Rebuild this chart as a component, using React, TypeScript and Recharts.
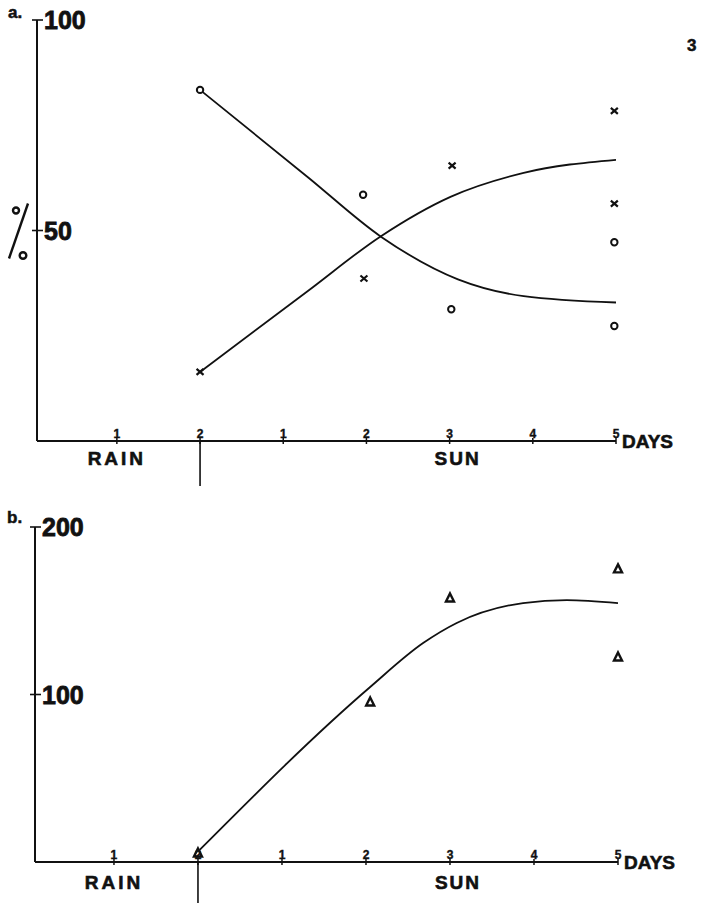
import { ComposedChart, Line, Scatter, XAxis, YAxis } from 'recharts'

// x runs over the whole period: rain days 1-2 then sun days 1-5 (t = 1..7)
const dayTicks = [1, 2, 3, 4, 5, 6, 7]
const dayLabels = ['1', '2', '1', '2', '3', '4', '5']
const rainDay = 1
const switchDay = 2
const sunDay = 5
const lastDay = 7

// panel a (%)
const pctTicks = [50, 100]
const circleDays = [2, 3.96, 5.02, 6.98, 6.98]
const circleValues = [83.4, 58.5, 31.3, 47.2, 27.3]
const crossDays = [2, 3.97, 5.03, 6.98, 6.98]
const crossValues = [16.4, 38.6, 65.4, 78.4, 56.4]
const circleCurveDays = [2, 3.3, 4.17, 5.1, 5.89, 7]
const circleCurveValues = [83.4, 62.6, 48.6, 38.4, 34.4, 32.9]
const crossCurveDays = [2, 3.3, 4.17, 5.01, 5.89, 7]
const crossCurveValues = [16.4, 35.7, 48.6, 58, 63.7, 66.8]

// panel b
const countTicks = [100, 200]
const triangleDays = [2, 4.05, 5, 7, 7]
const triangleValues = [5.4, 95.5, 157.6, 175, 122.4]
const triCurveDays = [2.02, 4.05, 4.68, 5.08, 5.87, 6.39, 7]
const triCurveValues = [7.2, 104.5, 130.7, 142.7, 154.6, 156.4, 154.6]

const zip = (ts: number[], vs: number[]) => ts.map((t, i) => ({ t, v: vs[i] }))

const FONT = '"Liberation Sans", Arial, sans-serif'
const INK = '#111'

const Ring = ({ cx, cy }: any) => (
  <circle cx={cx} cy={cy} r={3.2} fill="#fff" stroke={INK} strokeWidth={2} />
)
const Cross = ({ cx, cy }: any) => (
  <path
    d={`M${cx - 3.5},${cy - 3}L${cx + 3.5},${cy + 3}M${cx - 3.5},${cy + 3}L${cx + 3.5},${cy - 3}`}
    stroke={INK}
    strokeWidth={2.2}
  />
)
const Tri = ({ cx, cy }: any) => (
  <path
    d={`M${cx},${cy - 4.5}L${cx + 4},${cy + 3.5}L${cx - 4},${cy + 3.5}Z`}
    fill="#fff"
    stroke={INK}
    strokeWidth={2.4}
  />
)

const makeDayTick = (wordDy: number, dividerLen: number) => (props: any) => {
  const { x, y, payload } = props
  const i = dayTicks.indexOf(payload.value)
  return (
    <g fontFamily={FONT} fill={INK} stroke={INK} strokeWidth={0.6}>
      <line x1={x} x2={x} y1={y - 3} y2={y + 3} stroke={INK} strokeWidth={1.5} />
      <text x={x} y={y - 3} textAnchor="middle" fontSize={12} fontWeight={700} strokeWidth={0.4}>
        {dayLabels[i]}
      </text>
      {payload.value === switchDay && (
        <line x1={x} x2={x} y1={y} y2={y + dividerLen} stroke={INK} strokeWidth={1.6} />
      )}
      {payload.value === rainDay && (
        <text x={x} y={y + wordDy} textAnchor="middle" dominantBaseline="central" fontSize={19} fontWeight={700} letterSpacing={3}>
          RAIN
        </text>
      )}
      {payload.value === sunDay && (
        <text x={x + 8} y={y + wordDy} textAnchor="middle" dominantBaseline="central" fontSize={19} fontWeight={700} letterSpacing={2}>
          SUN
        </text>
      )}
      {payload.value === lastDay && (
        <text x={x + 6} y={y} dominantBaseline="central" fontSize={19} fontWeight={700}>
          DAYS
        </text>
      )}
    </g>
  )
}

const ValueTick = (props: any) => {
  const { x, y, payload } = props
  return (
    <g fontFamily={FONT} fill={INK}>
      <line x1={x - 5} x2={x + 6} y1={y} y2={y} stroke={INK} strokeWidth={1.6} />
      <text x={x + 7} y={y} dominantBaseline="central" fontSize={25} fontWeight={700} stroke={INK} strokeWidth={0.8}>
        {payload.value}
      </text>
    </g>
  )
}

const PercentLabel = ({ viewBox }: any) => {
  const cx = viewBox.x - 14
  const cy = viewBox.y + viewBox.height / 2
  return (
    <g stroke={INK} fill="none" strokeWidth={2.4}>
      <line x1={cx - 10} y1={cy + 28} x2={cx + 9} y2={cy - 27} />
      <circle cx={cx - 3} cy={cy - 20} r={3} />
      <circle cx={cx + 4} cy={cy + 25} r={3.3} />
    </g>
  )
}

const panelText = { position: 'absolute' as const, fontFamily: FONT, fontWeight: 700, color: INK, WebkitTextStroke: '0.5px #111' }

export default function App() {
  return (
    <div style={{ position: 'absolute', left: 0, top: 0, width: 709, height: 903, background: '#fff' }}>
      <div style={{ ...panelText, left: 8, top: 3, fontSize: 17 }}>a.</div>
      <div style={{ ...panelText, left: 687, top: 36, fontSize: 17 }}>3</div>
      <div style={{ ...panelText, left: 7, top: 508, fontSize: 17 }}>b.</div>

      <div style={{ position: 'absolute', left: 0, top: 0 }}>
        <ComposedChart width={709} height={495} margin={{ top: 20, right: 93, bottom: 34, left: 33 }}>
          <XAxis
            type="number"
            dataKey="t"
            domain={[0.04, 7]}
            ticks={dayTicks}
            height={20}
            tickSize={0}
            tickMargin={0}
            tickLine={false}
            axisLine={{ stroke: INK, strokeWidth: 2 }}
            tick={makeDayTick(17, 45)}
            interval={0}
          />
          <YAxis
            type="number"
            dataKey="v"
            domain={[0, 100]}
            ticks={pctTicks}
            width={4}
            tickSize={0}
            tickMargin={0}
            tickLine={false}
            axisLine={{ stroke: INK, strokeWidth: 2 }}
            tick={ValueTick}
            label={<PercentLabel />}
          />
          <Line data={zip(circleCurveDays, circleCurveValues)} dataKey="v" type="monotone" stroke={INK} strokeWidth={1.8} dot={false} isAnimationActive={false} />
          <Line data={zip(crossCurveDays, crossCurveValues)} dataKey="v" type="monotone" stroke={INK} strokeWidth={1.8} dot={false} isAnimationActive={false} />
          <Scatter data={zip(circleDays, circleValues)} dataKey="v" shape={Ring} isAnimationActive={false} />
          <Scatter data={zip(crossDays, crossValues)} dataKey="v" shape={Cross} isAnimationActive={false} />
        </ComposedChart>
      </div>

      <div style={{ position: 'absolute', left: 0, top: 495 }}>
        <ComposedChart width={709} height={408} margin={{ top: 32, right: 91, bottom: 21, left: 31 }}>
          <XAxis
            type="number"
            dataKey="t"
            domain={[0.06, 7]}
            ticks={dayTicks}
            height={20}
            tickSize={0}
            tickMargin={0}
            tickLine={false}
            axisLine={{ stroke: INK, strokeWidth: 2 }}
            tick={makeDayTick(20, 45)}
            interval={0}
          />
          <YAxis
            type="number"
            dataKey="v"
            domain={[0, 200]}
            ticks={countTicks}
            width={4}
            tickSize={0}
            tickMargin={0}
            tickLine={false}
            axisLine={{ stroke: INK, strokeWidth: 2 }}
            tick={ValueTick}
          />
          <Line data={zip(triCurveDays, triCurveValues)} dataKey="v" type="monotone" stroke={INK} strokeWidth={1.8} dot={false} isAnimationActive={false} />
          <Scatter data={zip(triangleDays, triangleValues)} dataKey="v" shape={Tri} isAnimationActive={false} />
        </ComposedChart>
      </div>
    </div>
  )
}
